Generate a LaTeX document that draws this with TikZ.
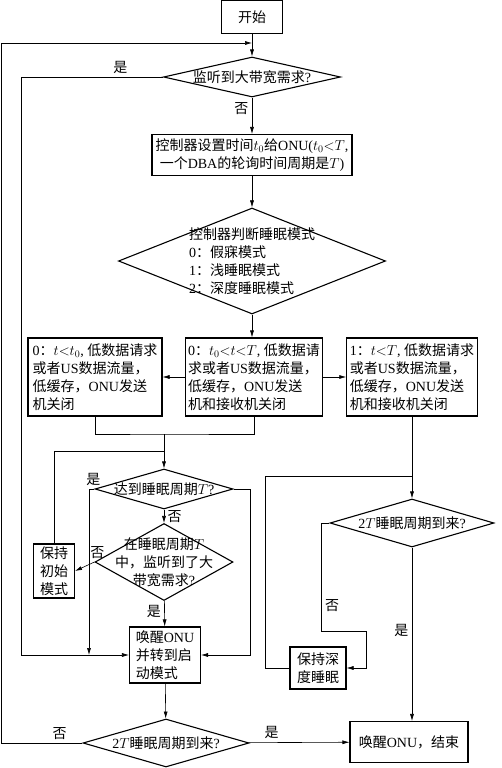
\documentclass[tikz,border=0pt]{standalone}
\usepackage{fontspec}
\setmainfont{Liberation Serif}
\newfontfamily\cjkfont{Noto Sans CJK SC}
\newfontfamily\latfont{Liberation Serif}

% cambio automatico del font tra testo cinese e latino
\XeTeXinterchartokenstate=1
\newXeTeXintercharclass\zhclass
\newcount\zhchar
\newcommand\setzhrange[2]{%
  \zhchar=#1
  \loop
    \XeTeXcharclass\zhchar=\zhclass
    \advance\zhchar by 1
  \ifnum\zhchar<#2 \repeat}
\setzhrange{"3000}{"3040}
\setzhrange{"4E00}{"A000}
\setzhrange{"FF00}{"FFF0}
\XeTeXinterchartoks 0 \zhclass = {\cjkfont}
\XeTeXinterchartoks 4095 \zhclass = {\cjkfont}
\XeTeXinterchartoks \zhclass 0 = {\latfont}
\XeTeXinterchartoks \zhclass 4095 = {\latfont}

\usepackage{tikz}
\usetikzlibrary{
    arrows.meta,        % frecce moderne
    positioning,        % posizionamento dei nodi
    shapes.geometric    % rombi
}

\begin{document}
\begin{tikzpicture}[x=1pt, y=-1pt,
    font=\fontsize{14pt}{18pt}\selectfont,
    box/.style={draw, line width=1.1pt, inner sep=3pt, align=center},
    dec/.style={diamond, draw, line width=1.1pt, inner sep=0pt},
    arr/.style={-{Latex[length=7pt, width=4pt]}, line width=0.6pt},
    line/.style={line width=0.6pt}]

        \useasboundingbox (0,0) rectangle (501,768);

        % Inizio e prima domanda
        \node[box, minimum width=61, minimum height=33] (start) at (252,17) {开始};
        \node[dec, minimum width=177, minimum height=40,
              label={center:监听到大带宽需求?}] (ask) at (252,77) {};

        \node[box, minimum width=200, minimum height=41] (set) at (252,155)
            {控制器设置时间$t_0$给ONU($t_0{<}T$,\\一个DBA的轮询时间周期是$T$)};

        \node[dec, minimum width=267, minimum height=106,
              label={[align=left]center:{控制器判断睡眠模式\\0：假寐模式\\1：浅睡眠模式\\2：深度睡眠模式}}]
              (mode) at (252,261) {};

        % Le tre modalita
        \node[box, align=left, minimum width=134, minimum height=78] (b0) at (95,377)
            {0：$t{<}t_0$, 低数据请求\\或者US数据流量，\\低缓存，ONU发送\\机关闭};
        \node[box, align=left, minimum width=134, minimum height=78] (b1) at (254,377)
            {0：$t_0{<}t{<}T$, 低数据请\\求或者US数据流量，\\低缓存，ONU发送\\机和接收机关闭};
        \node[box, align=left, minimum width=130, minimum height=78] (b2) at (412,377)
            {1：$t{<}T$, 低数据请求\\或者US数据流量，\\低缓存，ONU发送\\机和接收机关闭};

        % Colonna sinistra
        \node[dec, minimum width=138, minimum height=40,
              label={center:达到睡眠周期$T$?}] (reach) at (164,489) {};
        \node[dec, minimum width=138, minimum height=77,
              label={[align=center]center:{在睡眠周期$T$\\中，监听到了大\\带宽需求?}}] (listen) at (164,562) {};
        \node[box, minimum width=41, minimum height=54, inner sep=1pt] (keep0) at (54,571) {保持\\初始\\模式};
        \node[box, align=left, minimum width=71, minimum height=56, inner sep=2pt] (wake) at (165,655)
            {唤醒ONU\\并转到启\\动模式};
        \node[dec, minimum width=166, minimum height=48,
              label={center:2$T$睡眠周期到来?}] (twoT) at (166,743) {};

        % Colonna destra
        \node[dec, minimum width=164, minimum height=48,
              label={center:2$T$睡眠周期到来?}] (twoTr) at (412,523) {};
        \node[box, minimum width=56, minimum height=42, inner sep=2pt] (keepd) at (318,668) {保持深\\度睡眠};
        \node[box, minimum width=118, minimum height=41] (end) at (409,742) {唤醒ONU，结束};

        \coordinate (loop) at (252,43);
        \coordinate (join) at (164,434);
        \coordinate (back0) at (164,451);
        \coordinate (mergeL) at (89,655);
        \coordinate (back1) at (412,476);

        % Flusso principale
        \draw[arr] (start) -- (ask);
        \draw[arr] (ask) -- node[left, pos=0.3] {否} (set);
        \draw[arr] (set) -- (mode);
        \draw[arr] (mode.south) -- (mode.south |- b1.north);
        \draw[arr] (b1) -- (b0);
        \draw[arr] (b1) -- (b2);
        \draw[arr] (ask.west) -| node[pos=0.15, above] {是} (21,655) -- (wake.west);

        % Ciclo esterno
        \draw[arr] (twoT.west) -| node[pos=0.14, above] {否} (1,43) -- (loop);
        \draw[arr] (twoT) -- node[pos=0.23, above] {是} (end);

        % Periodo di sonno T
        \draw[line] (b0.south) |- (join) -| (b1.south);
        \draw[arr] (join) -- (reach);
        \draw[arr] (reach) -- node[right] {否} (listen);
        \draw[arr] (reach.west) -| node[pos=0.1, above] {是} (mergeL);
        \draw[arr] (reach.east) -- ++(17,0) |- (wake.east);
        \draw[arr] (listen.west) -- node[pos=0, above, xshift=3pt] {否} (keep0.east);
        \draw[line] (keep0.north) |- (back0);
        \draw[arr] (listen) -- node[left, pos=0.4] {是} (wake);
        \draw[arr] (wake) -- (twoT);

        % Sonno profondo
        \draw[arr] (b2) -- (twoTr);
        \draw[arr] (twoTr.west) -- ++(-8,0) -- node[right, pos=0.76] {否} ++(0,108) -- ++(45,0) |- (keepd.east);
        \draw[line] (keepd.west) -- ++(-24,0) |- (back1);
        \draw[arr] (twoTr.south) -- node[left, pos=0.48] {是} (twoTr.south |- end.north);

\end{tikzpicture}
\end{document}
